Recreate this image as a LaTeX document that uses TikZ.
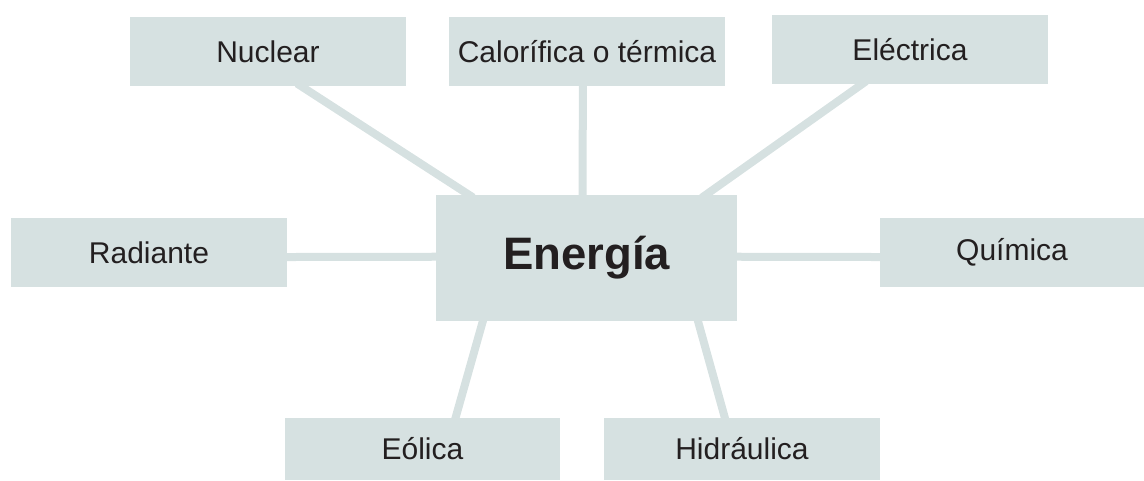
\documentclass[tikz,border=0pt]{standalone}
\usepackage{fontspec}
\setmainfont{Liberation Sans}
\usetikzlibrary{calc,backgrounds}
\definecolor{boxc}{RGB}{214,225,225}
\definecolor{txtc}{RGB}{35,31,32}
\tikzset{
  leaf/.style={fill=boxc, draw=none, inner sep=0pt, minimum width=276pt, minimum height=69pt,
    text=txtc, font=\fontsize{30}{36}\selectfont},
  hub/.style={fill=boxc, draw=none, inner sep=0pt, minimum width=301pt, minimum height=126pt,
    text=txtc, font=\fontsize{45.5}{54}\selectfont\bfseries},
  link/.style={draw=boxc, line width=8pt, shorten <=-5pt, shorten >=-5pt}
}
\begin{document}
\begin{tikzpicture}[x=1pt,y=-1pt]
\useasboundingbox (0,0) rectangle (1144,480);
\node[hub] (en) at (586.5,258) {Energía};
\node[leaf] (nuc) at (268,51.5) {Nuclear};
\node[leaf] (cal) at (587,51.5) {Calorífica o térmica};
\node[leaf] (ele) at (910,49.5) {Eléctrica};
\node[leaf] (rad) at (149,252.5) {Radiante};
\node[leaf, minimum width=264pt] (qui) at (1012,252.5) {Química};
\node[leaf, minimum width=275pt, minimum height=62pt] (eol) at (422.5,449) {Eólica};
\node[leaf, minimum height=62pt] (hid) at (742,449) {Hidráulica};
\begin{scope}[on background layer]
\draw[link] ($(nuc.south west)!0.62!(nuc.south east)$) -- ($(en.north west)!0.11!(en.north east)$);
\draw[link] ($(cal.south west)!0.485!(cal.south east)$) -- ($(en.north west)!0.487!(en.north east)$);
\draw[link] ($(ele.south west)!0.326!(ele.south east)$) -- ($(en.north west)!0.896!(en.north east)$);
\draw[link] ($(rad.north east)!0.565!(rad.south east)$) -- ($(en.north west)!0.49!(en.south west)$);
\draw[link] ($(qui.north west)!0.565!(qui.south west)$) -- ($(en.north east)!0.49!(en.south east)$);
\draw[link] ($(en.south west)!0.156!(en.south east)$) -- ($(eol.north west)!0.62!(eol.north east)$);
\draw[link] ($(en.south west)!0.87!(en.south east)$) -- ($(hid.north west)!0.438!(hid.north east)$);
\end{scope}
\end{tikzpicture}
\end{document}
